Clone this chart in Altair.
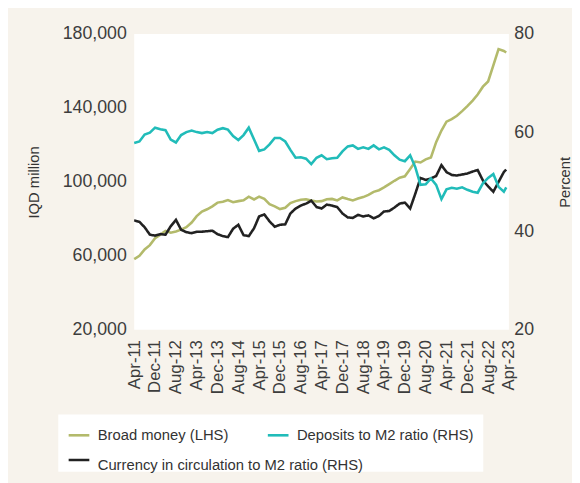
import altair as alt
import pandas as pd

FONT = "Liberation Sans"

# Series names and colours
names = ["Broad money (LHS)", "Deposits to M2 ratio (RHS)", "Currency in circulation to M2 ratio (RHS)"]
colors = ["#b3ba6b", "#21bcb9", "#222222"]

# Sample dates (every two months, Apr-2011 .. Feb-2023, plus Mar-2023)
dates = list(pd.date_range("2011-04-01", "2023-02-01", freq="2MS")) + [pd.Timestamp("2023-03-01")]

# Broad money, IQD million (LHS)
broad = [58200, 60000, 63500, 65800, 69500, 71500, 73500, 72500, 73200, 74200,
         75500, 78000, 81500, 84000, 85200, 86800, 88800, 89300, 90200, 89000,
         89600, 90000, 92000, 90500, 92000, 90800, 88000, 86800, 85300, 86000,
         88500, 89600, 90400, 90600, 90000, 89400, 89600, 90600, 90800, 90000,
         91600, 90700, 90000, 91000, 91800, 93000, 94600, 95500, 97000, 98800,
         100600, 102300, 103000, 107000, 111000, 110500, 112200, 113200, 121500, 127800,
         132600, 134000, 135800, 138300, 141000, 144000, 147300, 151500, 154300, 163000,
         171800, 170800, 170000]

# Deposits to M2 ratio, percent (RHS)
deposits = [57.9, 58.2, 59.6, 60.0, 61.0, 60.7, 60.5, 58.6, 58.0, 59.5,
            60.1, 60.4, 60.1, 59.9, 60.1, 59.9, 60.6, 60.9, 60.6, 59.3,
            58.5, 59.5, 61.0, 58.6, 56.3, 56.6, 57.6, 58.9, 58.9, 58.2,
            56.5, 54.9, 55.0, 54.7, 53.6, 54.9, 55.4, 54.6, 54.8, 54.9,
            56.2, 57.2, 57.4, 56.7, 57.0, 56.7, 57.4, 56.6, 57.0, 56.5,
            55.4, 54.5, 54.2, 55.4, 53.0, 49.4, 49.5, 50.7, 49.4, 46.5,
            48.5, 48.8, 48.6, 48.9, 48.4, 48.0, 47.8, 49.7, 50.8, 51.6,
            49.0, 48.0, 48.9]

# Currency in circulation to M2 ratio, percent (RHS)
currency = [42.2, 41.9, 40.8, 39.3, 39.1, 39.4, 39.3, 41.0, 42.3, 40.3,
            39.8, 39.6, 39.9, 39.9, 40.0, 40.1, 39.4, 39.0, 38.8, 40.5,
            41.3, 39.2, 39.0, 40.6, 43.0, 43.4, 42.0, 40.9, 41.3, 41.4,
            43.6, 44.6, 45.2, 45.6, 46.2, 44.9, 44.6, 45.4, 45.2, 44.9,
            43.6, 42.8, 42.7, 43.3, 43.0, 43.2, 42.6, 43.1, 44.0, 44.1,
            44.8, 45.6, 45.8, 44.6, 47.6, 50.8, 50.4, 50.7, 51.2, 53.4,
            52.0, 51.4, 51.3, 51.5, 51.7, 52.1, 52.4, 50.3, 49.1, 48.0,
            50.0, 52.0, 52.5]

# Axis ticks
x_ticks = [(2011, 4), (2011, 12), (2012, 8), (2013, 4), (2013, 12), (2014, 8),
           (2015, 4), (2015, 12), (2016, 8), (2017, 4), (2017, 12), (2018, 8),
           (2019, 4), (2019, 12), (2020, 8), (2021, 4), (2021, 12), (2022, 8),
           (2023, 4)]
left_ticks = [20000, 60000, 100000, 140000, 180000]
right_ticks = [20, 40, 60, 80]

rows = []
for d, b, dep, cur in zip(dates, broad, deposits, currency):
    rows.append({"date": d, "series": names[0], "value": b})
    rows.append({"date": d, "series": names[1], "value": dep})
    rows.append({"date": d, "series": names[2], "value": cur})
data = pd.DataFrame(rows)

x_enc = alt.X(
    "date:T",
    scale=alt.Scale(domain=[alt.DateTime(year=2011, month=4, date=1),
                            alt.DateTime(year=2023, month=4, date=1)], nice=False),
    axis=alt.Axis(values=[alt.DateTime(year=y, month=m, date=1) for y, m in x_ticks],
                  format="%b-%y", labelAngle=270, labelPadding=10, labelFontSize=17,
                  labelFont=FONT, labelColor="#3d3d3d", domain=False, ticks=False,
                  grid=False, labelOverlap=False, labelFlush=False),
    title=None,
)

# Legend box with the first row (Broad money, Deposits); a blank bottom title
# reserves the second row, which is drawn by a second (strokeDash) legend on top.
color_enc = alt.Color(
    "series:N",
    scale=alt.Scale(domain=names, range=colors),
    legend=alt.Legend(title=" ", titleOrient="bottom", titleAnchor="start",
                      titleFontSize=15, titleFont=FONT, titlePadding=5,
                      orient="none", legendX=-77, legendY=386, zindex=0,
                      values=[names[0], names[1]], direction="horizontal",
                      columns=2, columnPadding=34, padding=9, fillColor="white",
                      symbolType="stroke", symbolSize=440, symbolStrokeWidth=2.6,
                      labelFontSize=15, labelFont=FONT, labelColor="#333333",
                      labelOffset=7, labelLimit=400),
)

base = alt.Chart(data).encode(x=x_enc, color=color_enc)

left = base.transform_filter(alt.datum.series == names[0]).mark_line(strokeWidth=2.6).encode(
    y=alt.Y("value:Q",
            scale=alt.Scale(domain=[20000, 180000], nice=False, zero=False),
            axis=alt.Axis(values=left_ticks, format=",.0f", labelFontSize=18, labelFont=FONT,
                          labelColor="#3d3d3d", labelPadding=8, domain=False, ticks=False,
                          grid=False, title="IQD million", titleFontSize=15, titleFont=FONT,
                          titleFontWeight="normal", titleColor="#333333", titleAngle=270,
                          titleX=-102, titleY=150, titleAlign="center",
                          titleBaseline="middle"))
)

right_axis = alt.Axis(values=right_ticks, orient="right", format="d", labelFontSize=18,
                      labelFont=FONT, labelColor="#3d3d3d", labelPadding=5, domain=False,
                      ticks=False, grid=False, title="Percent", titleFontSize=15,
                      titleFont=FONT, titleFontWeight="normal", titleColor="#333333",
                      titleAngle=270, titleX=56, titleY=150, titleAlign="center",
                      titleBaseline="middle")
right_scale = alt.Scale(domain=[20, 80], nice=False, zero=False)

black = base.transform_filter(alt.datum.series == names[2]).mark_line(strokeWidth=2.6).encode(
    y=alt.Y("value:Q", scale=right_scale, axis=right_axis),
    strokeDash=alt.StrokeDash(
        "series:N",
        scale=alt.Scale(domain=[names[2]], range=[[1, 0]]),
        legend=alt.Legend(title=names[2], titleOrient="right", titleFontSize=15,
                          titleFont=FONT, titleFontWeight="normal", titleColor="#333333",
                          titlePadding=0, titleLimit=400, titleBaseline="top",
                          orient="none", legendX=-68, legendY=420, zindex=1,
                          symbolType="stroke", symbolSize=440, symbolStrokeWidth=2.6,
                          symbolStrokeColor="#222222", labelExpr="''", padding=0,
                          labelFontSize=15, labelOffset=7),
    ),
)
teal = base.transform_filter(alt.datum.series == names[1]).mark_line(strokeWidth=2.6).encode(
    y=alt.Y("value:Q", scale=right_scale, axis=right_axis)
)

chart = alt.layer(left, alt.layer(black, teal)).resolve_scale(y="independent").properties(
    width=380, height=300,
    autosize=alt.AutoSizeParams(type="none"),
    padding={"left": 128, "top": 23, "right": 64, "bottom": 152},
    background="#f7f3ec",
).configure_view(stroke=None, fill="white")

chart.save("out.html", embed_options={"renderer": "svg", "actions": False})
